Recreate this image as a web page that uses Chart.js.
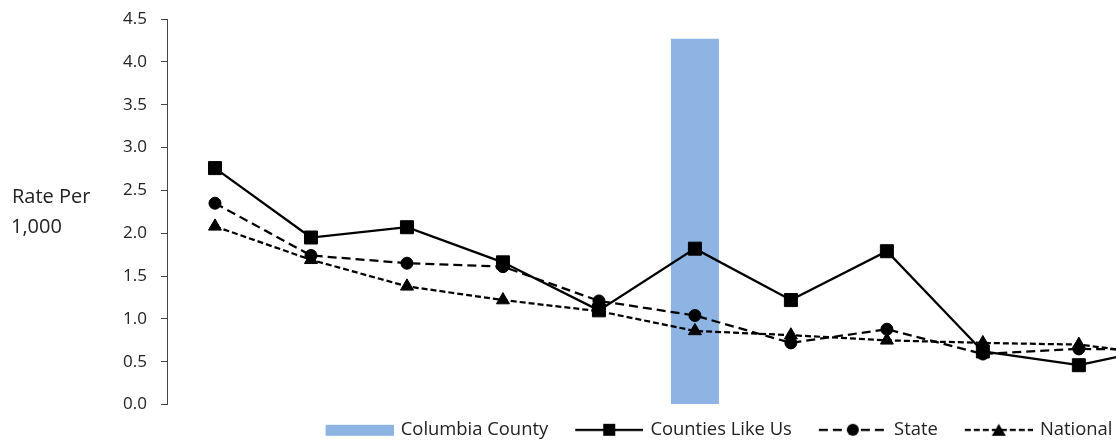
<!DOCTYPE html>
<html>
<head>
<meta charset="utf-8">
<script src="https://cdn.jsdelivr.net/npm/chart.js@4/dist/chart.umd.min.js"></script>
<style>
  html, body { margin: 0; padding: 0; background: #fff; overflow: hidden; }
  #wrap { width: 1116px; height: 441px; overflow: hidden; }
</style>
</head>
<body>
<div id="wrap">
  <canvas id="rateChart" width="1425" height="449"></canvas>
</div>
<script>
// values; the chart runs past the right edge of the window
var categories = ['', '', '', '', '', '', '', '', '', '', '', '', ''];
var columbiaCounty = [null, null, null, null, null, 4.27, null, null, null, null, null, null, null];
var countiesLikeUs = [2.76, 1.95, 2.07, 1.66, 1.10, 1.82, 1.22, 1.79, 0.62, 0.46, 0.70, null, null];
var stateRate = [2.35, 1.74, 1.65, 1.61, 1.21, 1.04, 0.72, 0.88, 0.59, 0.65, 0.64, null, null];
var nationalRate = [2.08, 1.69, 1.38, 1.22, 1.09, 0.86, 0.81, 0.75, 0.72, 0.70, 0.56, null, null];
var seriesNames = ['Columbia County', 'Counties Like Us', 'State', 'National'];
var yTitleLines = ['Rate Per', '1,000'];

var barColor = '#8EB4E3';
var ink = '#222222';

// legend swatches: image is a bit wider than the legend box, sample sits at its right end
function makeSwatch(kind, dash, marker) {
  var c = document.createElement('canvas');
  c.width = 83;
  c.height = 16;
  var g = c.getContext('2d');
  var x0 = 15, x1 = 83, xm = 49;
  if (kind === 'bar') {
    g.fillStyle = barColor;
    g.fillRect(x0, 3, 68, 11);
    return c;
  }
  g.strokeStyle = '#000';
  g.lineWidth = 2.25;
  g.setLineDash(dash);
  g.beginPath();
  g.moveTo(x0, 8);
  g.lineTo(x1, 8);
  g.stroke();
  g.setLineDash([]);
  g.fillStyle = '#000';
  g.beginPath();
  if (marker === 'rect') {
    g.rect(xm - 6, 2, 12, 12);
  } else if (marker === 'circle') {
    g.arc(xm, 8, 6, 0, Math.PI * 2);
  } else {
    g.moveTo(xm, 2);
    g.lineTo(xm + 7, 14);
    g.lineTo(xm - 7, 14);
    g.closePath();
  }
  g.fill();
  return c;
}

var swatches = [
  makeSwatch('bar'),
  makeSwatch('line', [], 'rect'),
  makeSwatch('line', [9, 5], 'circle'),
  makeSwatch('line', [6, 3], 'triangle')
];

// horizontal two-line axis title on the left
var yTitlePlugin = {
  id: 'yTitle',
  afterDraw: function(chart) {
    var ctx = chart.ctx;
    ctx.save();
    ctx.font = '20px "Open Sans"';
    ctx.fillStyle = ink;
    ctx.textBaseline = 'alphabetic';
    ctx.fillText(yTitleLines[0], 12, 203);
    ctx.fillText(yTitleLines[1], 11, 233);
    ctx.restore();
  }
};

var lineBase = {
  type: 'line',
  borderColor: '#000',
  borderWidth: 2.25,
  pointBackgroundColor: '#000',
  pointBorderColor: '#000',
  pointBorderWidth: 1,
  fill: false,
  tension: 0,
  order: 0
};

var ctx = document.getElementById('rateChart').getContext('2d');
var rateChart = new Chart(ctx, {
  type: 'bar',
  data: {
    labels: categories,
    datasets: [
      {
        label: seriesNames[0],
        data: columbiaCounty,
        backgroundColor: barColor,
        borderWidth: 0,
        categoryPercentage: 0.5,
        barPercentage: 1,
        order: 1
      },
      Object.assign({}, lineBase, {
        label: seriesNames[1],
        data: countiesLikeUs,
        pointStyle: 'rect',
        pointRadius: 9.2
      }),
      Object.assign({}, lineBase, {
        label: seriesNames[2],
        data: stateRate,
        borderDash: [9, 5],
        pointStyle: 'circle',
        pointRadius: 6
      }),
      Object.assign({}, lineBase, {
        label: seriesNames[3],
        data: nationalRate,
        borderDash: [6, 3],
        pointStyle: 'triangle',
        pointRadius: 7.5
      })
    ]
  },
  options: {
    responsive: false,
    animation: false,
    events: [],
    layout: { padding: { left: 0, right: 0, top: 19, bottom: 0 } },
    scales: {
      x: {
        offset: true,
        ticks: { display: false },
        grid: { display: false },
        border: { display: false },
        afterFit: function(scale) { scale.height = 2; }
      },
      y: {
        min: 0,
        max: 4.5,
        afterFit: function(scale) {
          scale.width = 167;
          scale.paddingTop = 0;
          scale.paddingBottom = 0;
        },
        ticks: {
          stepSize: 0.5,
          padding: 14,
          color: ink,
          font: { family: 'Open Sans', size: 17 },
          callback: function(v) { return Number(v).toFixed(1); }
        },
        grid: { drawOnChartArea: false, tickLength: 6, color: '#444' },
        border: { color: '#444', width: 1 }
      },
      // empty strip on the right so the legend centres like the original
      yRight: {
        position: 'right',
        ticks: { display: false },
        grid: { display: false },
        border: { display: false },
        afterFit: function(scale) {
          scale.width = 10;
          scale.paddingTop = 0;
          scale.paddingBottom = 0;
        }
      }
    },
    plugins: {
      tooltip: { enabled: false },
      legend: {
        position: 'bottom',
        labels: {
          usePointStyle: true,
          pointStyleWidth: 79,
          padding: 14,
          color: ink,
          font: { family: 'Open Sans', size: 18.4 },
          sort: function(a, b) { return a.datasetIndex - b.datasetIndex; },
          generateLabels: function(chart) {
            var items = Chart.defaults.plugins.legend.labels.generateLabels(chart);
            items.forEach(function(it) { it.pointStyle = swatches[it.datasetIndex]; });
            return items;
          }
        }
      }
    }
  },
  plugins: [yTitlePlugin]
});
</script>
</body>
</html>
